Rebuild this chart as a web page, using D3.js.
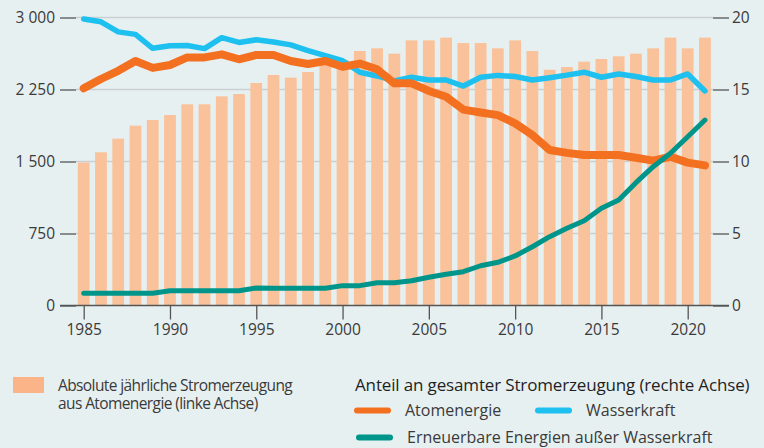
<!DOCTYPE html>
<html>
<head>
    <meta charset="utf-8">
    <title>Atomenergie</title>
    <script src="https://cdn.jsdelivr.net/npm/d3@7"></script>
    <style>
        html, body {
            margin: 0;
            padding: 0;
            background: #e7f0f1;
        }
        text {
            font-family: "Open Sans", sans-serif;
            fill: #3a3a3a;
        }
        .grid line {
            stroke: #c9d0d2;
            stroke-width: 1.3px;
        }
        .line {
            fill: none;
            stroke-linejoin: round;
            stroke-linecap: round;
        }
    </style>
</head>
<body>
    <div id="chart"></div>

    <script>
        const years = d3.range(1985, 2022);

        // TWh, left axis
        const nuclearTWh = [1490, 1596, 1738, 1873, 1932, 1984, 2096, 2096, 2179, 2203,
            2318, 2401, 2373, 2432, 2520, 2560, 2651, 2679, 2623, 2762,
            2762, 2790, 2734, 2734, 2679, 2762, 2651, 2456, 2484, 2540,
            2568, 2596, 2623, 2679, 2790, 2679, 2790];

        // share in %, right axis
        const shareNuclear = [15.08, 15.73, 16.3, 16.98, 16.5, 16.7, 17.23, 17.23, 17.44, 17.1,
            17.4, 17.4, 16.98, 16.77, 16.98, 16.58, 16.8, 16.4, 15.43, 15.43,
            14.9, 14.5, 13.6, 13.4, 13.22, 12.65, 11.84, 10.8, 10.6, 10.45,
            10.45, 10.45, 10.26, 10.06, 10.33, 9.92, 9.73];
        const shareHydro = [19.9, 19.7, 19.0, 18.83, 17.86, 18.04, 18.06, 17.84, 18.6, 18.27,
            18.45, 18.3, 18.1, 17.7, 17.35, 17.0, 16.2, 15.94, 15.6, 15.85,
            15.66, 15.66, 15.24, 15.85, 15.98, 15.9, 15.66, 15.82, 16.0, 16.2,
            15.85, 16.08, 15.9, 15.66, 15.66, 16.08, 14.9];
        const shareRenew = [0.85, 0.85, 0.85, 0.85, 0.85, 1.03, 1.03, 1.03, 1.03, 1.03,
            1.22, 1.2, 1.2, 1.2, 1.2, 1.38, 1.38, 1.58, 1.58, 1.72,
            1.96, 2.17, 2.35, 2.76, 3.0, 3.44, 4.08, 4.78, 5.36, 5.89,
            6.75, 7.33, 8.53, 9.64, 10.57, 11.72, 12.88];

        const leftTicks = [0, 750, 1500, 2250, 3000];
        const rightTicks = [0, 5, 10, 15, 20];
        const xTicks = [1985, 1990, 1995, 2000, 2005, 2010, 2015, 2020];

        const series = [
            {name: "Wasserkraft", values: shareHydro, color: "#1ec0f0", width: 5.5},
            {name: "Atomenergie", values: shareNuclear, color: "#f37021", width: 8},
            {name: "Erneuerbare Energien außer Wasserkraft", values: shareRenew, color: "#00958a", width: 5}
        ];

        const W = 764, H = 448;
        const svg = d3.select("#chart").append("svg")
            .attr("width", W)
            .attr("height", H);

        svg.append("rect").attr("width", W).attr("height", H).attr("fill", "#e7f0f1");

        const plotLeft = 76, plotRight = 713, plotTop = 17.5, plotBottom = 305.5;

        const x = d3.scaleLinear()
            .domain([1985, 2020])
            .range([83.7, 687.7]);
        const bw = 11.8;

        const yL = d3.scaleLinear().domain([0, 3000]).range([plotBottom, plotTop]);
        const yR = d3.scaleLinear().domain([0, 20]).range([plotBottom, plotTop]);

        // gridlines
        svg.append("g")
            .attr("class", "grid")
            .selectAll("line")
            .data(leftTicks.slice(1))
            .join("line")
            .attr("x1", plotLeft)
            .attr("x2", plotRight)
            .attr("y1", d => yL(d))
            .attr("y2", d => yL(d));

        // bars
        svg.append("g")
            .selectAll("rect")
            .data(years)
            .join("rect")
            .attr("x", (d, i) => x(d) - bw / 2)
            .attr("width", bw)
            .attr("y", (d, i) => yL(nuclearTWh[i]))
            .attr("height", (d, i) => plotBottom - yL(nuclearTWh[i]))
            .attr("fill", "#fac29a");

        // lines
        series.forEach(s => {
            const line = d3.line()
                .x((d, i) => x(years[i]))
                .y(d => yR(d));
            svg.append("path")
                .attr("class", "line")
                .attr("d", line(s.values))
                .attr("stroke", s.color)
                .attr("stroke-width", s.width);
        });

        // left axis
        const gL = svg.append("g")
            .attr("transform", `translate(${plotLeft},0)`)
            .call(d3.axisLeft(yL).tickValues(leftTicks).tickSize(16).tickPadding(5)
                .tickFormat(d => d3.format(",")(d).replace(",", "\u00a0")));
        gL.select(".domain").remove();

        // right axis
        const gR = svg.append("g")
            .attr("transform", `translate(${plotRight},0)`)
            .call(d3.axisRight(yR).tickValues(rightTicks).tickSize(16).tickPadding(3));
        gR.select(".domain").remove();

        // bottom axis
        const gB = svg.append("g")
            .attr("transform", `translate(0,${plotBottom})`)
            .call(d3.axisBottom(x).tickValues(xTicks).tickSize(14).tickPadding(4)
                .tickFormat(d3.format("d")));
        gB.select(".domain").remove();

        svg.append("line")
            .attr("x1", 60).attr("x2", 729)
            .attr("y1", plotBottom).attr("y2", plotBottom)
            .attr("stroke", "#555").attr("stroke-width", 1.3);

        svg.selectAll(".tick line").attr("stroke", "#555").attr("stroke-width", 1.3);
        svg.selectAll(".tick text")
            .attr("font-size", 15.5)
            .attr("fill", "#3a3a3a")
            .style("font-family", "'Open Sans', sans-serif");

        // legend
        const leg = svg.append("g");
        leg.append("rect")
            .attr("x", 13).attr("y", 377)
            .attr("width", 31).attr("height", 16)
            .attr("fill", "#fab487");
        const barLabel = leg.append("text")
            .attr("y", 391)
            .attr("font-size", 15.5)
            .attr("letter-spacing", -0.6);
        barLabel.append("tspan")
            .attr("x", 58)
            .text("Absolute jährliche Stromerzeugung");
        barLabel.append("tspan")
            .attr("x", 58).attr("dy", 17.5)
            .text("aus Atomenergie (linke Achse)");

        leg.append("text")
            .attr("x", 355).attr("y", 391)
            .attr("font-size", 17)
            .attr("letter-spacing", -0.15)
            .style("fill", "#1f1f1f")
            .text("Anteil an gesamter Stromerzeugung (rechte Achse)");

        const legItems = [
            {s: series[1], x: 354, y: 410.5},
            {s: series[0], x: 535, y: 410.5},
            {s: series[2], x: 356, y: 437.5}
        ];
        legItems.forEach(it => {
            leg.append("line")
                .attr("x1", it.x + 3).attr("x2", it.x + 34)
                .attr("y1", it.y).attr("y2", it.y)
                .attr("stroke", it.s.color)
                .attr("stroke-width", 6)
                .attr("stroke-linecap", "round");
            leg.append("text")
                .attr("x", it.x + 51).attr("y", it.y + 5.5)
                .attr("font-size", 16)
                .text(it.s.name);
        });
    </script>
</body>
</html>
